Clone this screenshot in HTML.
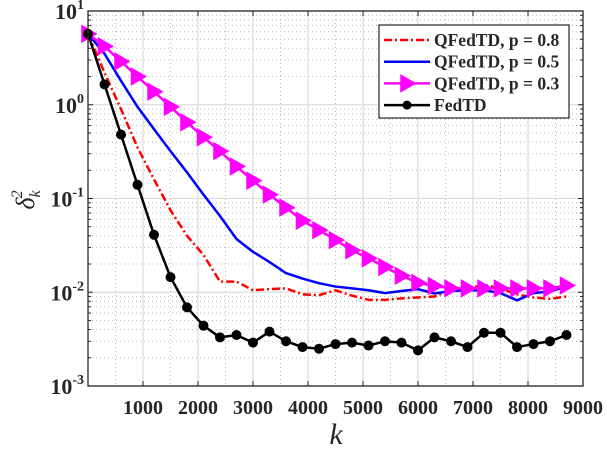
<!DOCTYPE html>
<html><head><meta charset="utf-8"><style>
body{margin:0;background:#fff}
svg{display:block}
text{font-family:"Liberation Serif",serif;fill:#262626}
</style></head><body>
<svg id="c" width="606" height="450"></svg>
<script>
const xs=[0,300,600,900,1200,1500,1800,2100,2400,2700,3000,3300,3600,3900,4200,4500,4800,5100,5400,5700,6000,6300,6600,6900,7200,7500,7800,8100,8400,8700];
const fedtd=[5.7,1.65,0.48,0.14,0.041,0.0145,0.0069,0.0044,0.0033,0.0035,0.0029,0.0038,0.0030,0.0026,0.0025,0.0028,0.0029,0.0027,0.0030,0.0029,0.0024,0.0033,0.0030,0.0026,0.0037,0.0037,0.0026,0.0028,0.0030,0.0035];
const p08=[5.7,2.2,0.9,0.35,0.16,0.075,0.04,0.025,0.013,0.013,0.0105,0.0108,0.011,0.0095,0.0093,0.0105,0.0092,0.0083,0.0083,0.0086,0.0088,0.009,0.0105,0.011,0.012,0.011,0.0095,0.0088,0.0085,0.009];
const p05=[5.7,3.5,1.8,0.95,0.55,0.32,0.19,0.11,0.065,0.037,0.027,0.021,0.016,0.014,0.0125,0.0115,0.011,0.0105,0.0098,0.0103,0.0108,0.0097,0.0103,0.0105,0.0105,0.0098,0.0082,0.0098,0.0102,0.0115];
const p03=[5.7,4.2,2.9,2.0,1.38,0.95,0.65,0.45,0.32,0.22,0.155,0.11,0.08,0.058,0.046,0.036,0.028,0.023,0.0186,0.015,0.0126,0.0117,0.011,0.011,0.011,0.011,0.011,0.011,0.011,0.0118];
const xTicks=[1000,2000,3000,4000,5000,6000,7000,8000,9000];
const yExps=[1,0,-1,-2,-3];
const L=88,R=583,T=11,B=386;
const X=v=>L+(v/9000)*(R-L);
const Y=v=>T+(1-Math.log10(v))/4*(B-T);
const NS="http://www.w3.org/2000/svg",svg=document.getElementById('c');
function el(t,a,p){const e=document.createElementNS(NS,t);for(const k in a)e.setAttribute(k,a[k]);(p||svg).appendChild(e);return e;}
const grid=el('g',{});


for(let v=500;v<9000;v+=500){if(v%1000)el('line',{x1:X(v),x2:X(v),y1:T,y2:B,stroke:'#bbb','stroke-width':1,'stroke-dasharray':'1,3'},grid);}
for(let e=-3;e<1;e++)for(let m=2;m<10;m++){const y=Y(m*Math.pow(10,e));el('line',{x1:L,x2:R,y1:y,y2:y,stroke:'#bbb','stroke-width':1,'stroke-dasharray':'1,3'},grid);}
xTicks.forEach(v=>{if(v<9000)el('line',{x1:X(v),x2:X(v),y1:T,y2:B,stroke:'#ddd','stroke-width':1.2},grid);});
yExps.forEach(e=>{el('line',{x1:L,x2:R,y1:Y(Math.pow(10,e)),y2:Y(Math.pow(10,e)),stroke:'#ddd','stroke-width':1.2},grid);});
function pts(a){return xs.map((x,i)=>X(x)+','+Y(a[i])).join(' ');}
let s;
s=el('polyline',{points:pts(p08),fill:'none',stroke:'#f00','stroke-width':2.5,'stroke-dasharray':'8,3,2,3'});


s=el('polyline',{points:pts(p05),fill:'none',stroke:'#00f','stroke-width':2.5});


s=el('polyline',{points:pts(p03),fill:'none',stroke:'#f0f','stroke-width':2.5});


function tri(cx,cy,g){return el('polygon',{points:(cx-6)+','+(cy-8)+' '+(cx+8)+','+cy+' '+(cx-6)+','+(cy+8),fill:'#f0f',stroke:'#f0f','stroke-width':1.5},g);}
xs.forEach((x,i)=>{const t=tri(X(x),Y(p03[i]));});
s=el('polyline',{points:pts(fedtd),fill:'none',stroke:'#000','stroke-width':2.5});


xs.forEach((x,i)=>{const c=el('circle',{cx:X(x),cy:Y(fedtd[i]),r:5,fill:'#000'});});
const box=el('rect',{x:L,y:T,width:R-L,height:B-T,fill:'none',stroke:'#262626','stroke-width':1.3});


xTicks.forEach(v=>{el('line',{x1:X(v),x2:X(v),y1:B,y2:B-5,stroke:'#262626'});el('line',{x1:X(v),x2:X(v),y1:T,y2:T+5,stroke:'#262626'});
 const t=el('text',{x:X(v),y:B+28,'text-anchor':'middle','font-size':20,'font-weight':'bold'});t.textContent=v;});
for(let e=-3;e<1;e++)for(let m=1;m<10;m++){const y=Y(m*Math.pow(10,e)),w=m==1?5:3;el('line',{x1:L,x2:L+w,y1:y,y2:y,stroke:'#262626'});el('line',{x1:R,x2:R-w,y1:y,y2:y,stroke:'#262626'});}
yExps.forEach(e=>{const t=el('text',{x:L-4,y:Y(Math.pow(10,e))+8,'text-anchor':'end','font-size':22,'font-weight':'bold'});t.textContent='10';
 const sp=el('tspan',{dy:-10,'font-size':14},t);sp.textContent=String(e);});
let t=el('text',{x:336,y:444,'text-anchor':'middle','font-size':30,'font-style':'italic'});t.textContent='k';


t=el('text',{transform:'translate(34,200) rotate(-90)','text-anchor':'middle','font-size':26,'font-style':'italic'});
t.innerHTML='δ<tspan font-size="16" dy="6">k</tspan><tspan font-size="16" dx="-8" dy="-18">2</tspan>';


const lg=el('g',{});


el('rect',{x:379,y:25,width:190,height:93,fill:'#fff',stroke:'#262626','stroke-width':1.2},lg);
const labs=['QFedTD, p = 0.8','QFedTD, p = 0.5','QFedTD, p = 0.3','FedTD'];
const cols=['#f00','#00f','#f0f','#000'];
labs.forEach((lb,i)=>{const y=40+i*21.7;
 const g=el('g',{},lg);
 const a={x1:384,x2:430,y1:y,y2:y,stroke:cols[i],'stroke-width':2.5};if(i==0)a['stroke-dasharray']='8,3,2,3';el('line',a,g);
 if(i==2)tri(407,y,g);if(i==3)el('circle',{cx:407,cy:y,r:4.5,fill:'#000'},g);
 const tx=el('text',{x:434,y:y+6,'font-size':17.5,'font-weight':'bold',fill:'#000'},g);tx.textContent=lb;});
</script>
</body></html>
